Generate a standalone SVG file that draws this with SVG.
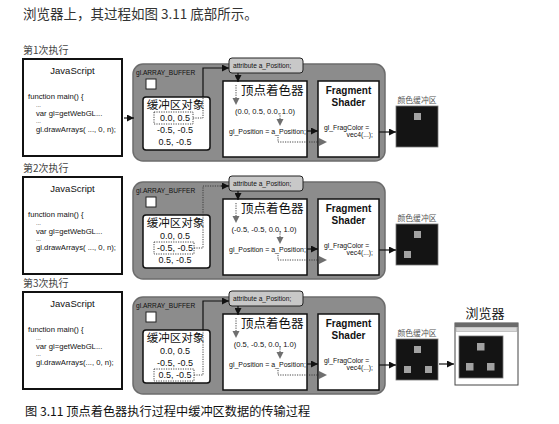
<svg xmlns="http://www.w3.org/2000/svg" width="559" height="424" viewBox="0 0 559 424">
<defs>
<style>
.t{font-family:"Liberation Sans",Arial,sans-serif;fill:#111}
.cjk{font-family:"Noto Sans CJK SC","Noto Sans",sans-serif}
.lbl{font-size:10px;fill:#444}
.code{font-size:7.7px}
.ell{font-size:6px}
.js{fill:#fff;stroke:#111;stroke-width:2}
.gray{fill:#8c8c8c;stroke:#6c6c6c;stroke-width:1.5}
.wbox{fill:#fff;stroke:#111;stroke-width:1.5}
.buf{fill:#fff;stroke:#111;stroke-width:1.5}
.attr{fill:#c8c8c8;stroke:#222;stroke-width:1}
.dot{fill:none;stroke:#333;stroke-width:0.9;stroke-dasharray:1.2 1.2}
.conn{fill:none;stroke:#111;stroke-width:1.2}
.tri{fill:#6f6f6f}
.cb{fill:#141414;stroke:#777;stroke-width:0.8}
.px{fill:#a2a2a2}
.num{font-size:9px}
.cbl{font-size:7.8px;fill:#555}
</style>
<marker id="ah" markerWidth="7" markerHeight="7" refX="7" refY="3.5" orient="auto" markerUnits="userSpaceOnUse"><path d="M0,0 L7,3.5 L0,7 z" fill="#111"/></marker>
</defs>
<rect width="559" height="424" fill="#fff"/>
<text x="23" y="19" class="cjk" font-size="13.5" fill="#333">浏览器上，其过程如图 3.11 底部所示。</text>

<!-- Row 1 -->
<g id="row1">
<text x="23" y="54" class="cjk lbl">第1次执行</text>
<g id="js1">
<rect x="23" y="59" width="99" height="97" class="js"/>
<text x="72.5" y="74" text-anchor="middle" class="t" font-size="9.5">JavaScript</text>
<text x="28" y="98.5" class="t code">function main() {</text>
<text x="36" y="106.5" class="t ell">...</text>
<text x="36" y="115.5" class="t code">var gl=getWebGL...</text>
<text x="36" y="123" class="t ell">...</text>
<text x="36" y="131.5" class="t code">gl.drawArrays( ..., 0, n);</text>
</g>
<g id="webgl1">
<rect x="133" y="64" width="252" height="97" rx="10" class="gray"/>
<text x="136" y="75" class="t" font-size="6.6" fill="#222">gl.ARRAY_BUFFER</text>
<rect x="146" y="79" width="10" height="10" fill="#fff" stroke="#222" stroke-width="1"/>
</g>
<g id="buffer1">
<rect x="143" y="97" width="67" height="53" rx="3" class="buf"/>
<text x="175.5" y="109" text-anchor="middle" class="cjk" font-size="11.5" fill="#111">缓冲区对象</text>
<text x="175" y="121" text-anchor="middle" class="t num">0.0,  0.5</text>
<text x="175" y="133" text-anchor="middle" class="t num">-0.5, -0.5</text>
<text x="175" y="145" text-anchor="middle" class="t num">0.5, -0.5</text>
<rect x="154" y="112" width="39" height="12" class="dot"/>
</g>
<g id="attr1">
<rect x="229" y="58" width="74" height="15" rx="3" class="attr"/>
<text x="233" y="68" class="t" font-size="6.6">attribute a_Position;</text>
</g>
<g id="vshader1">
<rect x="223" y="81" width="84" height="76" class="wbox"/>
<text x="241" y="95" class="cjk" font-size="12.5" fill="#111">顶点着色器</text>
<text x="265" y="114" text-anchor="middle" class="t" font-size="7.6">(0.0,  0.5, 0.0, 1.0)</text>
<text x="229" y="133.5" class="t" font-size="7">gl_Position = a_Position;</text>
</g>
<g id="fshader1">
<rect x="318" y="81" width="61" height="76" class="wbox"/>
<text x="348.5" y="94" text-anchor="middle" class="t" font-size="10" font-weight="bold">Fragment</text>
<text x="348.5" y="106" text-anchor="middle" class="t" font-size="10" font-weight="bold">Shader</text>
<text x="324" y="129.5" class="t" font-size="6.8">gl_FragColor =</text>
<text x="373" y="136.5" text-anchor="end" class="t" font-size="6.8">vec4(...);</text>
</g>
<g id="colorbuf1">
<text x="417" y="103" text-anchor="middle" class="cjk cbl">颜色缓冲区</text>
<rect x="396" y="106" width="42" height="41" class="cb"/>
<rect x="414" y="113" width="7" height="7" class="px"/>
</g>
<g id="conn1">
<path d="M124,118 H134" class="conn" marker-end="url(#ah)"/>
<path d="M193,118 H203 V97" class="dot"/>
<path d="M203,97 V68 H229" class="conn" marker-end="url(#ah)"/>
<path d="M238,73 V82" class="conn" marker-end="url(#ah)"/>
<path d="M236,85 V99" class="dot"/>
<polygon points="232.5,98 239.5,98 236,105" class="tri"/>
<path d="M280,113 V119" class="dot"/>
<polygon points="276.5,119 283.5,119 280,126" class="tri"/>
<path d="M307,131 H318" class="conn" marker-end="url(#ah)"/>
<path d="M278,137 V142 H319" class="dot"/>
<polygon points="319,138 319,146 327,142" class="tri"/>
<path d="M379,132 H396" class="conn" marker-end="url(#ah)"/>
</g>
</g>

<!-- Row 2 -->
<g id="row2" transform="translate(0,118)">
<text x="23" y="54" class="cjk lbl">第2次执行</text>
<g id="js2">
<rect x="23" y="59" width="99" height="97" class="js"/>
<text x="72.5" y="74" text-anchor="middle" class="t" font-size="9.5">JavaScript</text>
<text x="28" y="98.5" class="t code">function main() {</text>
<text x="36" y="106.5" class="t ell">...</text>
<text x="36" y="115.5" class="t code">var gl=getWebGL...</text>
<text x="36" y="123" class="t ell">...</text>
<text x="36" y="131.5" class="t code">gl.drawArrays( ..., 0, n);</text>
</g>
<g id="webgl2">
<rect x="133" y="64" width="252" height="97" rx="10" class="gray"/>
<text x="136" y="75" class="t" font-size="6.6" fill="#222">gl.ARRAY_BUFFER</text>
<rect x="146" y="79" width="10" height="10" fill="#fff" stroke="#222" stroke-width="1"/>
</g>
<g id="buffer2">
<rect x="143" y="97" width="67" height="53" rx="3" class="buf"/>
<text x="175.5" y="109" text-anchor="middle" class="cjk" font-size="11.5" fill="#111">缓冲区对象</text>
<text x="175" y="121" text-anchor="middle" class="t num">0.0,  0.5</text>
<text x="175" y="133" text-anchor="middle" class="t num">-0.5, -0.5</text>
<text x="175" y="145" text-anchor="middle" class="t num">0.5, -0.5</text>
<rect x="154" y="124" width="40" height="12" class="dot"/>
</g>
<g id="attr2">
<rect x="229" y="58" width="74" height="15" rx="3" class="attr"/>
<text x="233" y="68" class="t" font-size="6.6">attribute a_Position;</text>
</g>
<g id="vshader2">
<rect x="223" y="81" width="84" height="76" class="wbox"/>
<text x="241" y="95" class="cjk" font-size="12.5" fill="#111">顶点着色器</text>
<text x="264" y="114" text-anchor="middle" class="t" font-size="7.6">(-0.5,  -0.5, 0.0, 1.0)</text>
<text x="229" y="133.5" class="t" font-size="7">gl_Position = a_Position;</text>
</g>
<g id="fshader2">
<rect x="318" y="81" width="61" height="76" class="wbox"/>
<text x="348.5" y="94" text-anchor="middle" class="t" font-size="10" font-weight="bold">Fragment</text>
<text x="348.5" y="106" text-anchor="middle" class="t" font-size="10" font-weight="bold">Shader</text>
<text x="324" y="129.5" class="t" font-size="6.8">gl_FragColor =</text>
<text x="373" y="136.5" text-anchor="end" class="t" font-size="6.8">vec4(...);</text>
</g>
<g id="colorbuf2">
<text x="417" y="103" text-anchor="middle" class="cjk cbl">颜色缓冲区</text>
<rect x="396" y="106" width="42" height="41" class="cb"/>
<rect x="414" y="113" width="7" height="7" class="px"/>
<rect x="404" y="133" width="7" height="7" class="px"/>
</g>
<g id="conn2">
<path d="M194,130 H203 V97" class="dot"/>
<path d="M203,97 V68 H222" class="dot"/>
<path d="M221,68 H229" class="conn" marker-end="url(#ah)"/>
<path d="M238,73 V82" class="conn" marker-end="url(#ah)"/>
<path d="M236,85 V99" class="dot"/>
<polygon points="232.5,98 239.5,98 236,105" class="tri"/>
<path d="M280,113 V119" class="dot"/>
<polygon points="276.5,119 283.5,119 280,126" class="tri"/>
<path d="M307,131 H318" class="conn" marker-end="url(#ah)"/>
<path d="M278,137 V142 H319" class="dot"/>
<polygon points="319,138 319,146 327,142" class="tri"/>
<path d="M379,132 H396" class="conn" marker-end="url(#ah)"/>
</g>
</g>

<!-- Row 3 -->
<g id="row3" transform="translate(0,233)">
<text x="23" y="54" class="cjk lbl">第3次执行</text>
<g id="js3">
<rect x="23" y="59" width="99" height="97" class="js"/>
<text x="72.5" y="74" text-anchor="middle" class="t" font-size="9.5">JavaScript</text>
<text x="28" y="98.5" class="t code">function main() {</text>
<text x="36" y="106.5" class="t ell">...</text>
<text x="36" y="115.5" class="t code">var gl=getWebGL...</text>
<text x="36" y="123" class="t ell">...</text>
<text x="36" y="131.5" class="t code">gl.drawArrays(..., 0, n);</text>
</g>
<g id="webgl3">
<rect x="133" y="64" width="252" height="97" rx="10" class="gray"/>
<text x="136" y="75" class="t" font-size="6.6" fill="#222">gl.ARRAY_BUFFER</text>
<rect x="146" y="79" width="10" height="10" fill="#fff" stroke="#222" stroke-width="1"/>
</g>
<g id="buffer3">
<rect x="143" y="97" width="67" height="53" rx="3" class="buf"/>
<text x="175.5" y="109" text-anchor="middle" class="cjk" font-size="11.5" fill="#111">缓冲区对象</text>
<text x="175" y="121" text-anchor="middle" class="t num">0.0,  0.5</text>
<text x="175" y="133" text-anchor="middle" class="t num">-0.5, -0.5</text>
<text x="175" y="145" text-anchor="middle" class="t num">0.5, -0.5</text>
<rect x="154" y="136" width="40" height="12" class="dot"/>
</g>
<g id="attr3">
<rect x="229" y="58" width="74" height="15" rx="3" class="attr"/>
<text x="233" y="68" class="t" font-size="6.6">attribute a_Position;</text>
</g>
<g id="vshader3">
<rect x="223" y="81" width="84" height="76" class="wbox"/>
<text x="241" y="95" class="cjk" font-size="12.5" fill="#111">顶点着色器</text>
<text x="265" y="114" text-anchor="middle" class="t" font-size="7.6">(0.5,  -0.5, 0.0, 1.0)</text>
<text x="229" y="133.5" class="t" font-size="7">gl_Position = a_Position;</text>
</g>
<g id="fshader3">
<rect x="318" y="81" width="61" height="76" class="wbox"/>
<text x="348.5" y="94" text-anchor="middle" class="t" font-size="10" font-weight="bold">Fragment</text>
<text x="348.5" y="106" text-anchor="middle" class="t" font-size="10" font-weight="bold">Shader</text>
<text x="324" y="129.5" class="t" font-size="6.8">gl_FragColor =</text>
<text x="373" y="136.5" text-anchor="end" class="t" font-size="6.8">vec4(...);</text>
</g>
<g id="colorbuf3">
<text x="417" y="103" text-anchor="middle" class="cjk cbl">颜色缓冲区</text>
<rect x="396" y="106" width="42" height="41" class="cb"/>
<rect x="414" y="113" width="7" height="7" class="px"/>
<rect x="404" y="133" width="7" height="7" class="px"/>
<rect x="425" y="133" width="7" height="7" class="px"/>
</g>
<g id="browser3">
<text x="485" y="85" text-anchor="middle" class="cjk" font-size="13" fill="#222">浏览器</text>
<rect x="455" y="90" width="63" height="62" fill="#fff" stroke="#444" stroke-width="1"/>
<rect x="455" y="90" width="63" height="4" fill="#6a6a6a"/>
<rect x="456" y="94.5" width="61" height="4" fill="#d8d8d8" stroke="#888" stroke-width="0.4"/>
<rect x="459" y="103" width="44" height="42" class="cb"/>
<rect x="477" y="110" width="7.5" height="7.5" class="px"/>
<rect x="466" y="130" width="7.5" height="7.5" class="px"/>
<rect x="487" y="130" width="7.5" height="7.5" class="px"/>
</g>
<g id="conn3">
<path d="M194,142 H203 V97" class="dot"/>
<path d="M203,97 V68 H229" class="conn" marker-end="url(#ah)"/>
<path d="M238,73 V82" class="conn" marker-end="url(#ah)"/>
<path d="M236,85 V99" class="dot"/>
<polygon points="232.5,98 239.5,98 236,105" class="tri"/>
<path d="M280,113 V119" class="dot"/>
<polygon points="276.5,119 283.5,119 280,126" class="tri"/>
<path d="M307,131 H318" class="conn" marker-end="url(#ah)"/>
<path d="M278,137 V142 H319" class="dot"/>
<polygon points="319,138 319,146 327,142" class="tri"/>
<path d="M379,132 H396" class="conn" marker-end="url(#ah)"/>
<path d="M439,131 H454" class="conn" marker-end="url(#ah)"/>
</g>
</g>

<text x="25" y="416" class="cjk" font-size="12.2" fill="#111">图 3.11  顶点着色器执行过程中缓冲区数据的传输过程</text>
</svg>
